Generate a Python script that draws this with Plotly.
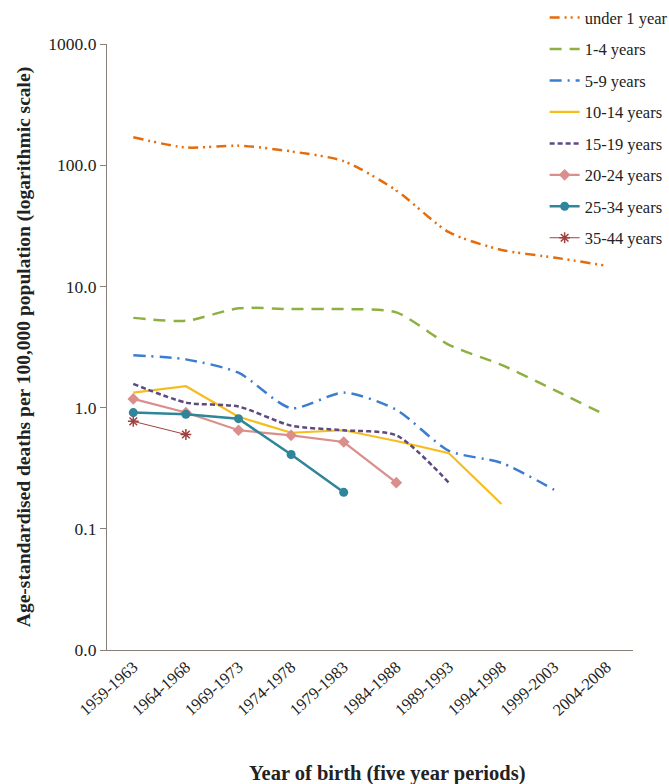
import plotly.graph_objects as go

periods = ["1959-1963", "1964-1968", "1969-1973", "1974-1978", "1979-1983",
           "1984-1988", "1989-1993", "1994-1998", "1999-2003", "2004-2008"]

under1 = [170, 140, 145, 130, 108, 62, 28, 20, 17.3, 14.8]
y1_4 = [5.5, 5.2, 6.6, 6.5, 6.5, 6.1, 3.3, 2.25, 1.4, 0.86]
y5_9 = [2.7, 2.5, 1.94, 0.99, 1.33, 0.96, 0.44, 0.35, 0.21]
y10_14 = [1.33, 1.5, 0.84, 0.62, 0.65, 0.53, 0.42, 0.16]
y15_19 = [1.57, 1.1, 1.02, 0.71, 0.65, 0.59, 0.24]
y20_24 = [1.18, 0.91, 0.65, 0.59, 0.52, 0.24]
y25_34 = [0.91, 0.88, 0.81, 0.41, 0.2]
y35_44 = [0.77, 0.6]

tick_vals = [0.01, 0.1, 1, 10, 100, 1000]
tick_text = ["0.0", "0.1", "1.0", "10.0", "100.0", "1000.0"]

FONT = "Liberation Serif, Times New Roman, serif"

series = [
    ("under 1 year", under1, "#E46C0A", "10px,5px,2px,4px,2px,5px", 2.5, None, "spline"),
    ("1-4 years", y1_4, "#8DB040", "12px,8px", 2.5, None, "spline"),
    ("5-9 years", y5_9, "#3C7DD0", "12px,6px,2px,6px", 2.5, None, "spline"),
    ("10-14 years", y10_14, "#F5BE1E", "solid", 2.2, None, "linear"),
    ("15-19 years", y15_19, "#5E4A7E", "5px,3px", 2.5, None, "spline"),
    ("20-24 years", y20_24, "#DB8F8C", "solid", 2.2, dict(symbol="diamond", size=9), "linear"),
    ("25-34 years", y25_34, "#2F8599", "solid", 2.5, dict(symbol="circle", size=9), "linear"),
    ("35-44 years", y35_44, "#A0403E", "solid", 1, dict(symbol="asterisk-open", size=9, line=dict(width=1.5, color="#A0403E")), "linear"),
]

fig = go.Figure()
for i, (name, vals, color, dash, width, marker, shape) in enumerate(series):
    line = dict(color=color, dash=dash, width=width, shape=shape)
    if shape == "spline":
        line["smoothing"] = 0.7
    fig.add_trace(go.Scatter(
        x=periods[:len(vals)], y=vals, name=name, legendgroup=f"g{i}",
        mode="lines+markers" if marker else "lines",
        line=line,
        marker=dict(color=color, **marker) if marker else None,
    ))

axis_color = "#8A7E78"
fig.update_layout(
    width=669, height=784,
    paper_bgcolor="white", plot_bgcolor="white",
    margin=dict(l=107, r=36, t=44, b=134, autoexpand=False),
    font=dict(family=FONT, size=16, color="#222222"),
    showlegend=True,
    legend=dict(x=0.832, y=1.072, xanchor="left", yanchor="top",
                bgcolor="rgba(255,255,255,0)",
                font=dict(family=FONT, size=16.5, color="#222222"),
                tracegroupgap=7, itemwidth=30),
    annotations=[dict(
        text="<b>Year of birth (five year periods)</b>",
        xref="paper", yref="paper", x=0.534, y=-0.204,
        xanchor="center", yanchor="middle", showarrow=False,
        font=dict(family=FONT, size=20.5, color="#222222"),
    )],
)
fig.update_xaxes(
    type="category", categoryorder="array", categoryarray=periods,
    range=[-0.5, 9.5],
    showline=True, linecolor=axis_color, linewidth=1.2,
    showgrid=False, ticks="", tickangle=-42, tickfont=dict(size=16.5),
)
fig.update_yaxes(
    type="log", range=[-2, 3],
    tickvals=tick_vals, ticktext=tick_text,
    showline=True, linecolor=axis_color, linewidth=1.2,
    showgrid=False, ticks="outside", ticklen=6, tickcolor=axis_color,
    tickfont=dict(size=17.5),
    title=dict(text="<b>Age-standardised deaths per 100,000 population (logarithmic scale)</b>",
               font=dict(size=19.5), standoff=12),
)

fig.write_html("out.html")
